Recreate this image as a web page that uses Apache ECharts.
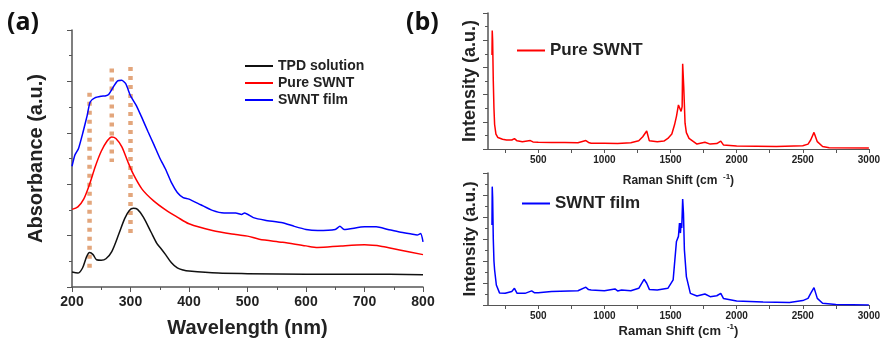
<!DOCTYPE html>
<html><head><meta charset="utf-8">
<script src="https://cdn.jsdelivr.net/npm/echarts@6/dist/echarts.min.js"></script>
<style>html,body{margin:0;padding:0;background:#fff}#c{width:883px;height:343px}</style>
</head><body><div id="c"></div>
<script>
// ---- Panel (a): UV-vis absorbance ----
const tpdX = [200,210,218,225,230,236,242,250,258,268,280,290,298,305,312,322,335,345,352,360,370,380,390,400,450,500,600,700,800];
const tpdY = [0.29,0.27,0.37,0.59,0.67,0.63,0.53,0.52,0.55,0.69,1.03,1.33,1.49,1.53,1.51,1.36,1.07,0.85,0.75,0.63,0.47,0.37,0.33,0.31,0.27,0.26,0.25,0.25,0.24];
const pureX = [200,210,220,230,240,250,260,268,275,285,295,305,320,340,360,380,400,440,480,500,520,560,600,620,660,700,730,760,800];
const pureY = [1.51,1.56,1.71,2.0,2.35,2.64,2.84,2.92,2.89,2.73,2.45,2.19,1.90,1.67,1.50,1.36,1.23,1.10,1.02,0.99,0.93,0.87,0.80,0.77,0.80,0.82,0.79,0.72,0.63];
const filmX = [200,205,211,219,226,231,239,250,258,263,270,278,285,292,300,310,320,330,340,350,360,370,380,390,400,420,440,460,480,490,495,510,530,560,580,600,620,650,658,665,700,720,740,760,780,790,796,800];
const filmY = [2.35,2.57,2.69,3.02,3.34,3.60,3.68,3.71,3.72,3.75,3.88,4.01,4.02,3.95,3.72,3.53,3.28,3.02,2.77,2.51,2.29,2.03,1.84,1.74,1.71,1.60,1.49,1.44,1.44,1.41,1.44,1.35,1.30,1.25,1.18,1.12,1.10,1.12,1.18,1.12,1.17,1.17,1.12,1.07,1.03,1.01,1.04,0.88];
const markX = [230,268,300];
const markTop = [3.78,4.25,4.28];
const markBottom = [0.37,2.43,1.0];
const wlTicks = [200,300,400,500,600,700,800];

// ---- Panel (b): Raman spectra ----
const ramanPureX = [150,152,155,160,165,170,180,195,230,260,300,320,340,380,440,460,500,600,700,800,860,880,900,1000,1100,1200,1260,1290,1320,1330,1340,1400,1450,1480,1510,1530,1545,1560,1570,1580,1588,1592,1600,1610,1620,1640,1700,1760,1800,1850,1880,1900,2000,2300,2500,2540,2560,2585,2610,2650,2700,3000];
const ramanPureY = [3.46,4.36,4.0,2.5,1.5,0.9,0.55,0.42,0.36,0.33,0.33,0.38,0.30,0.27,0.31,0.26,0.25,0.24,0.24,0.23,0.31,0.24,0.21,0.21,0.20,0.23,0.30,0.45,0.66,0.60,0.30,0.27,0.29,0.39,0.55,0.88,1.2,1.62,1.66,1.38,1.56,3.13,2.30,0.95,0.60,0.39,0.18,0.25,0.18,0.20,0.29,0.15,0.11,0.09,0.12,0.18,0.33,0.61,0.27,0.09,0.05,0.04];
const ramanFilmX = [150,152,155,160,165,170,183,207,250,300,320,340,400,450,470,500,600,800,860,880,900,1000,1080,1100,1130,1145,1200,1260,1300,1320,1340,1400,1480,1520,1545,1560,1568,1575,1580,1585,1592,1598,1605,1620,1650,1700,1760,1800,1850,1880,1900,2000,2200,2400,2500,2540,2560,2585,2610,2650,2750,3000];
const ramanFilmY = [3.64,5.38,4.9,3.0,2.0,1.59,0.91,0.55,0.53,0.61,0.76,0.53,0.53,0.64,0.56,0.56,0.61,0.65,0.81,0.70,0.68,0.65,0.73,0.64,0.68,0.64,0.65,0.76,1.17,0.99,0.71,0.68,0.76,1.14,2.89,3.12,3.72,3.27,3.72,3.50,4.82,4.18,2.51,1.29,0.53,0.41,0.50,0.38,0.42,0.53,0.30,0.18,0.14,0.11,0.20,0.30,0.53,0.79,0.30,0.08,0.02,0.0];
const ramanLabelTicks = [500,1000,1500,2000,2500,3000];
const ramanTicks = [250,500,750,1000,1250,1500,1750,2000,2250,2500,2750,3000];

const zip = (xs, ys) => xs.map((x, i) => [x, ys[i]]);
const FONT = '"Liberation Sans", Arial, sans-serif';
const AX = '#555';
const plain = v => String(v);

function valAxisY(gi, max) {
  return {
    type: 'value', gridIndex: gi, min: 0, max: max, interval: 1,
    axisLine: {show: true, lineStyle: {color: AX, width: 1.5}},
    axisTick: {show: true, inside: false, length: 5, lineStyle: {color: AX}},
    minorTick: {show: true, splitNumber: 2, length: 3, lineStyle: {color: AX}},
    axisLabel: {show: false}, splitLine: {show: false}
  };
}

const markerSeries = markX.map((x, i) => ({
  type: 'line', xAxisIndex: 0, yAxisIndex: 0, symbol: 'none', silent: true, z: 1,
  data: [[x, markTop[i]], [x, markBottom[i]]],
  lineStyle: {color: '#E3A67C', width: 4.5, type: [4, 5], cap: 'butt'}
}));

const rich = {
  sup: {fontSize: 8, fontWeight: 'bold', fontFamily: FONT, color: '#222', verticalAlign: 'top', lineHeight: 16},
};

const option = {
  animation: false,
  backgroundColor: '#fff',
  grid: [
    {left: 72, top: 30, width: 351, height: 261},
    {left: 488, top: 13, width: 385, height: 136},
    {left: 488, top: 173, width: 385, height: 132}
  ],
  xAxis: [
    {type: 'value', gridIndex: 0, min: 200, max: 800, interval: 100,
     name: 'Wavelength (nm)', nameLocation: 'middle', nameGap: 31,
     nameTextStyle: {fontSize: 20, fontWeight: 'bold', fontFamily: FONT, color: '#222'},
     axisLine: {lineStyle: {color: AX, width: 1.5}},
     axisTick: {show: true, length: 5, lineStyle: {color: AX}},
     minorTick: {show: true, splitNumber: 2, length: 3, lineStyle: {color: AX}},
     axisLabel: {fontSize: 14, fontWeight: 'bold', fontFamily: FONT, color: '#222', margin: 8, customValues: wlTicks, formatter: plain},
     splitLine: {show: false}},
    {type: 'value', gridIndex: 1, min: 120, max: 3000,
     name: 'Raman Shift (cm {sup| -1})', nameLocation: 'middle', nameGap: 24,
     nameTextStyle: {fontSize: 12, fontWeight: 'bold', fontFamily: FONT, color: '#222', lineHeight: 16, rich: rich},
     axisLine: {lineStyle: {color: AX, width: 1}},
     axisTick: {show: true, length: 4, customValues: ramanTicks, lineStyle: {color: AX}},
     axisLabel: {fontSize: 10, fontWeight: 'bold', fontFamily: FONT, color: '#222', margin: 6, customValues: ramanLabelTicks, formatter: plain},
     splitLine: {show: false}},
    {type: 'value', gridIndex: 2, min: 120, max: 3000,
     name: 'Raman Shift (cm {sup| -1})', nameLocation: 'middle', nameGap: 18,
     nameTextStyle: {fontSize: 13, fontWeight: 'bold', fontFamily: FONT, color: '#222', lineHeight: 16, rich: rich},
     axisLine: {lineStyle: {color: AX, width: 1}},
     axisTick: {show: true, length: 4, customValues: ramanTicks, lineStyle: {color: AX}},
     axisLabel: {fontSize: 10, fontWeight: 'bold', fontFamily: FONT, color: '#222', margin: 6, customValues: ramanLabelTicks, formatter: plain},
     splitLine: {show: false}}
  ],
  yAxis: [
    Object.assign(valAxisY(0, 5), {name: 'Absorbance (a.u.)', nameLocation: 'middle', nameGap: 26,
      nameTextStyle: {fontSize: 20, fontWeight: 'bold', fontFamily: FONT, color: '#222'}}),
    Object.assign(valAxisY(1, 5), {name: 'Intensity (a.u.)', nameLocation: 'middle', nameGap: 9,
      nameTextStyle: {fontSize: 18, fontWeight: 'bold', fontFamily: FONT, color: '#222'}}),
    Object.assign(valAxisY(2, 6), {name: 'Intensity (a.u.)', nameLocation: 'middle', nameGap: 9,
      nameTextStyle: {fontSize: 17, fontWeight: 'bold', fontFamily: FONT, color: '#222'}})
  ],
  legend: [
    {data: ['TPD solution'], left: 245, top: 59},
    {data: ['Pure SWNT'], left: 245, top: 76},
    {data: ['SWNT film'], left: 245, top: 93},
    {data: ['Pure SWNT'], left: 517, top: 42, textStyle: {fontSize: 17}},
    {data: ['SWNT film'], left: 522, top: 195, textStyle: {fontSize: 17}}
  ].map(l => Object.assign({
    orient: 'vertical', icon: 'rect', itemWidth: 28, itemHeight: 2, itemGap: 4, selectedMode: false,
    padding: 0
  }, l, {textStyle: Object.assign({fontSize: 14, fontWeight: 'bold', fontFamily: FONT, color: '#222'}, l.textStyle || {})})),
  graphic: [
    {type: 'text', left: 7, top: 10, style: {text: '(a)', fontSize: 25, fontWeight: 'bold', fontFamily: '"Open Sans", sans-serif', fill: '#111'}},
    {type: 'text', left: 406, top: 10, style: {text: '(b)', fontSize: 25, fontWeight: 'bold', fontFamily: '"Open Sans", sans-serif', fill: '#111'}}
  ],
  series: [
    ...markerSeries,
    {name: 'TPD solution', type: 'line', xAxisIndex: 0, yAxisIndex: 0, symbol: 'none', smooth: 0.3, z: 3,
     data: zip(tpdX, tpdY), lineStyle: {color: '#111', width: 1.5}, itemStyle: {color: '#111'}},
    {name: 'Pure SWNT', type: 'line', xAxisIndex: 0, yAxisIndex: 0, symbol: 'none', smooth: 0.3, z: 3,
     data: zip(pureX, pureY), lineStyle: {color: '#ff0000', width: 1.5}, itemStyle: {color: '#ff0000'}},
    {name: 'SWNT film', type: 'line', xAxisIndex: 0, yAxisIndex: 0, symbol: 'none', smooth: 0.2, z: 3,
     data: zip(filmX, filmY), lineStyle: {color: '#0000ff', width: 1.5}, itemStyle: {color: '#0000ff'}},
    {name: 'Pure SWNT', type: 'line', xAxisIndex: 1, yAxisIndex: 1, symbol: 'none', z: 3,
     data: zip(ramanPureX, ramanPureY), lineStyle: {color: '#ff0000', width: 1.5}, itemStyle: {color: '#ff0000'}},
    {name: 'SWNT film', type: 'line', xAxisIndex: 2, yAxisIndex: 2, symbol: 'none', z: 3,
     data: zip(ramanFilmX, ramanFilmY), lineStyle: {color: '#0000ff', width: 1.5}, itemStyle: {color: '#0000ff'}}
  ]
};
const chart = echarts.init(document.getElementById('c'), null, {renderer: 'canvas'});
chart.setOption(option);
</script></body></html>
